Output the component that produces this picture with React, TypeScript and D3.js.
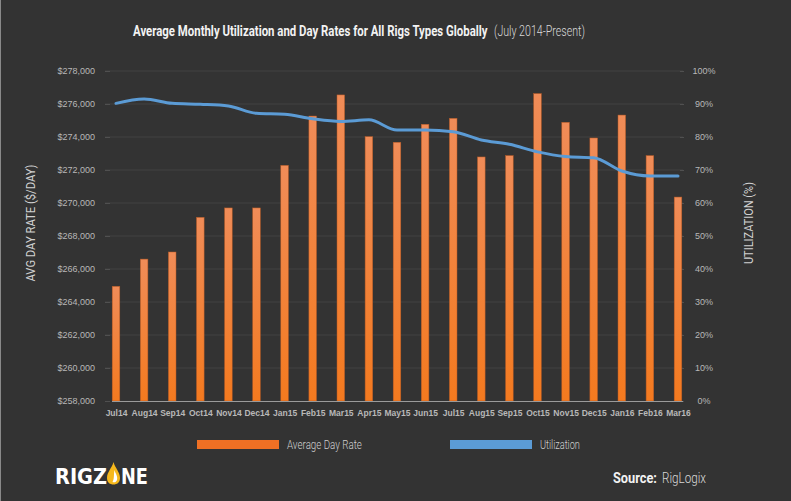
import React, { useEffect, useRef } from 'react'
import * as d3 from 'd3'

const months = [
  'Jul14', 'Aug14', 'Sep14', 'Oct14', 'Nov14', 'Dec14', 'Jan15', 'Feb15', 'Mar15', 'Apr15', 'May15',
  'Jun15', 'Jul15', 'Aug15', 'Sep15', 'Oct15', 'Nov15', 'Dec15', 'Jan16', 'Feb16', 'Mar16',
]

// average day rate ($/day)
const dayRates = [
  264950, 266600, 267030, 269130, 269700, 269700, 272280, 275270, 276550, 274020, 273680,
  274770, 275130, 272790, 272870, 276630, 274890, 273940, 275330, 272870, 270360,
]

// utilization (%)
const utilization = [
  90.2, 91.5, 90.2, 89.9, 89.4, 87.2, 86.9, 85.5, 84.7, 85.2, 82.1,
  82.1, 81.6, 79.1, 77.8, 75.5, 74.1, 73.7, 69.7, 68.2, 68.2,
]

const rateTicks = [258000, 260000, 262000, 264000, 266000, 268000, 270000, 272000, 274000, 276000, 278000]
const utilTicks = [0, 10, 20, 30, 40, 50, 60, 70, 80, 90, 100]

const W = 791
const H = 501
const narrow = "Roboto, 'Liberation Sans', sans-serif"
const sans = "'Liberation Sans', Arial, sans-serif"

// squeeze a text horizontally so it spans `width` px starting at x (fakes a condensed face)
const squeeze = (t: d3.Selection<SVGTextElement, unknown, null, undefined>, x: number, y: number, width: number) => {
  const len = (t.node() as SVGTextElement).getComputedTextLength()
  t.attr('transform', `translate(${x},${y}) scale(${width / len},1)`)
}

const App = () => {
  const svgRef = useRef<SVGSVGElement>(null)

  useEffect(() => {
    const svg = d3.select(svgRef.current)
    svg.selectAll('*').remove()
    svg.attr('width', W).attr('height', H)

    svg.append('rect').attr('width', W).attr('height', H).attr('fill', '#333333')
    svg.append('line').attr('x1', 0.5).attr('x2', 0.5).attr('y1', 0).attr('y2', H)
      .attr('stroke', '#8a8a8a').attr('stroke-width', 1)

    const defs = svg.append('defs')
    const grad = defs.append('linearGradient').attr('id', 'barGrad')
      .attr('x1', 0).attr('x2', 0).attr('y1', 0).attr('y2', 1)
    grad.append('stop').attr('offset', '0%').attr('stop-color', '#f08c58')
    grad.append('stop').attr('offset', '100%').attr('stop-color', '#f47a1f')

    const plotLeft = 105
    const plotRight = 683
    const top = 71
    const bottom = 401

    const x = d3.scalePoint<string>().domain(months).range([116, 678])
    const yRate = d3.scaleLinear().domain([258000, 278000]).range([bottom, top])
    const yUtil = d3.scaleLinear().domain([0, 100]).range([bottom, top])

    // grid
    svg.append('g').selectAll('line').data(rateTicks.slice(1)).enter().append('line')
      .attr('x1', plotLeft).attr('x2', plotRight)
      .attr('y1', d => yRate(d)).attr('y2', d => yRate(d))
      .attr('stroke', '#434343').attr('stroke-width', 1)

    // left axis
    const leftAxis = d3.axisLeft(yRate).tickValues(rateTicks).tickSize(5).tickPadding(10)
      .tickFormat(d => '$' + d3.format(',')(d as number))
    const gl = svg.append('g').attr('transform', `translate(110,0)`).call(leftAxis)
    gl.select('.domain').remove()
    gl.selectAll('line').attr('stroke', '#505050')
    gl.selectAll('text').attr('fill', '#b8b8b8').attr('font-family', sans).attr('font-size', 9)

    // right axis
    const rightAxis = d3.axisRight(yUtil).tickValues(utilTicks).tickSize(4).tickPadding(0)
      .tickFormat(d => d + '%')
    const gr = svg.append('g').attr('transform', `translate(680,0)`).call(rightAxis)
    gr.select('.domain').remove()
    gr.selectAll('line').attr('stroke', '#505050')
    gr.selectAll('text').attr('fill', '#b8b8b8').attr('font-family', sans).attr('font-size', 9)
      .attr('text-anchor', 'middle').attr('x', 24)

    // bars
    const bw = 7.6
    svg.append('g').selectAll('rect').data(dayRates).enter().append('rect')
      .attr('x', (d, i) => (x(months[i]) as number) - bw / 2)
      .attr('width', bw)
      .attr('y', d => yRate(d))
      .attr('height', d => bottom - yRate(d))
      .attr('fill', 'url(#barGrad)')
      .attr('stroke', '#b85a25').attr('stroke-width', 0.5)

    // x axis
    const xAxis = d3.axisBottom(x).tickSize(0).tickPadding(9)
    const gx = svg.append('g').attr('transform', `translate(0,${bottom})`).call(xAxis)
    gx.select('.domain').attr('d', `M112,0.5H683`).attr('stroke', '#9a9a9a').attr('stroke-width', 1.2)
    gx.selectAll('text').attr('fill', '#b8b8b8').attr('font-family', sans).attr('font-size', 8.5)
      .attr('font-weight', 'bold')

    // utilization line
    const line = d3.line<number>()
      .x((d, i) => x(months[i]) as number)
      .y(d => yUtil(d))
      .curve(d3.curveMonotoneX)
    svg.append('path').datum(utilization).attr('d', line)
      .attr('fill', 'none').attr('stroke', '#5b9bd5').attr('stroke-width', 3)
      .attr('stroke-linejoin', 'round').attr('stroke-linecap', 'round')

    // title
    const t1 = svg.append('text')
      .attr('font-family', narrow).attr('font-size', 14.5).attr('fill', '#f2f2f2').attr('font-weight', 'bold')
      .text('Average Monthly Utilization and Day Rates for All Rigs Types Globally')
    squeeze(t1, 133, 36, 355)
    const t2 = svg.append('text')
      .attr('font-family', narrow).attr('font-size', 14.5).attr('fill', '#d8d8d8').attr('font-weight', 300)
      .text('(July 2014-Present)')
    squeeze(t2, 494, 36, 91)

    // axis titles
    svg.append('text').attr('transform', `translate(35,223) rotate(-90)`).attr('text-anchor', 'middle')
      .attr('font-family', narrow).attr('font-size', 13).attr('fill', '#d0d0d0')
      .attr('textLength', 117).attr('lengthAdjust', 'spacingAndGlyphs')
      .text('AVG DAY RATE ($/DAY)')
    svg.append('text').attr('transform', `translate(753,223) rotate(-90)`).attr('text-anchor', 'middle')
      .attr('font-family', narrow).attr('font-size', 13).attr('fill', '#d0d0d0')
      .attr('textLength', 82).attr('lengthAdjust', 'spacingAndGlyphs')
      .text('UTILIZATION (%)')

    // legend
    const legend = [
      { label: 'Average Day Rate', color: '#ef7024', x: 197, len: 75 },
      { label: 'Utilization', color: '#5b9bd5', x: 450, len: 40 },
    ]
    legend.forEach(d => {
      svg.append('rect').attr('x', d.x).attr('y', 440).attr('width', 82).attr('height', 9).attr('fill', d.color)
      const t = svg.append('text').attr('font-family', narrow).attr('font-size', 12.5)
        .attr('font-weight', 300).attr('fill', '#cfcfcf').text(d.label)
      squeeze(t, d.x + 90, 449, d.len)
    })

    // logo
    const logo = svg.append('g').attr('transform', 'translate(55,484)')
    logo.append('text').attr('font-family', "'DejaVu Sans', sans-serif").attr('font-weight', 'bold')
      .attr('font-size', 22).attr('fill', '#ffffff').attr('textLength', 52).attr('lengthAdjust', 'spacingAndGlyphs')
      .text('RIGZ')
    logo.append('path')
      .attr('d', 'M58.5,-22 C60,-16 65,-12 65,-6 C65,-1.5 62,0.5 58.5,0.5 C55,0.5 52,-1.5 52,-6 C52,-12 57,-16 58.5,-22 Z')
      .attr('fill', '#f6b81c')
    logo.append('path')
      .attr('d', 'M59.5,-14 C60.5,-10 63,-8 62,-4 C61,-1.5 59.5,-1.5 57.5,-2 C59.5,-5 58.5,-9 59.5,-14 Z')
      .attr('fill', '#ffffff')
    logo.append('text').attr('x', 66).attr('font-family', "'DejaVu Sans', sans-serif").attr('font-weight', 'bold')
      .attr('font-size', 22).attr('fill', '#ffffff').attr('textLength', 27).attr('lengthAdjust', 'spacingAndGlyphs')
      .text('NE')

    // source
    const s1 = svg.append('text').attr('font-family', narrow)
      .attr('font-size', 15).attr('fill', '#f2f2f2').attr('font-weight', 'bold').text('Source:')
    squeeze(s1, 613, 483, 44)
    const s2 = svg.append('text').attr('font-family', narrow)
      .attr('font-size', 15).attr('fill', '#d8d8d8').attr('font-weight', 300).text('RigLogix')
    squeeze(s2, 662, 483, 44)
  }, [])

  return (
    <div style={{ position: 'fixed', left: 0, top: 0 }}>
      <svg ref={svgRef} style={{ display: 'block' }} />
    </div>
  )
}

export default App
